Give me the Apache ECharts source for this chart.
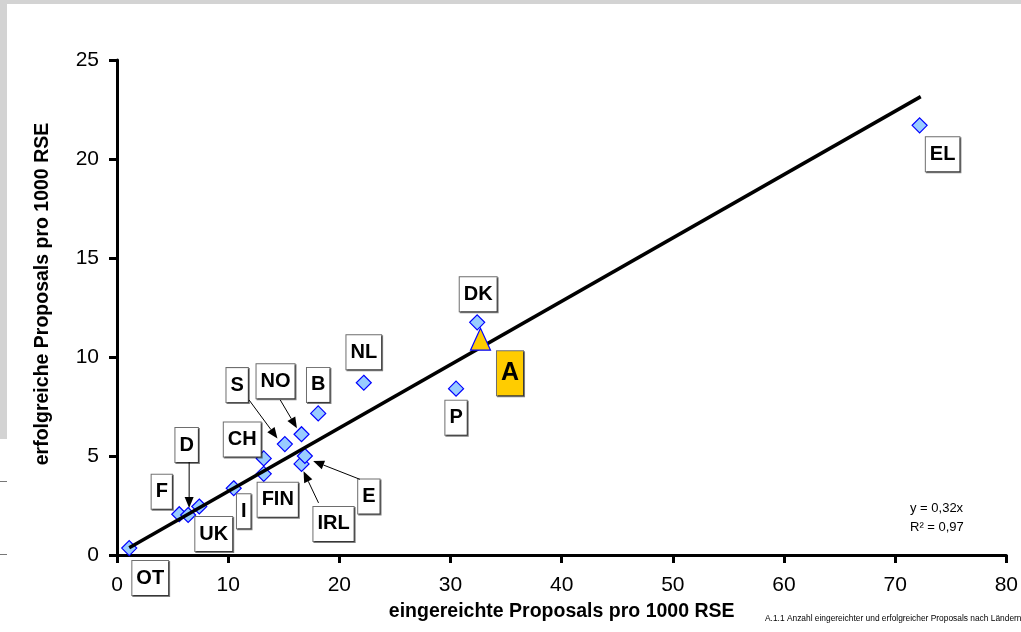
<!DOCTYPE html>
<html>
<head>
<meta charset="utf-8">
<script src="https://cdn.jsdelivr.net/npm/echarts@6/dist/echarts.min.js"></script>
<style>html,body{margin:0;padding:0;background:#fff}#c{width:1021px;height:632px}</style>
</head>
<body>
<div id="c"></div>
<script>
// ---- data ----
const countries  = ['OT','F','D','UK','I','FIN','CH','S','NO','B','IRL','E','NL','P','DK','EL'];
const submitted  = [1.1, 5.6, 6.4, 7.4, 10.5, 13.2, 13.2, 15.1, 16.6, 18.1, 16.6, 16.9, 22.2, 30.5, 32.4, 72.2];
const successful = [0.35, 2.06, 2.02, 2.45, 3.37, 4.1, 4.88, 5.6, 6.1, 7.15, 4.6, 5.0, 8.7, 8.4, 11.75, 21.7];
const austriaName = ['A'];
const austriaX = [32.7];
const austriaY = [10.9];
const trendX = [1.1, 72.3];
const trendY = [0.37, 23.15];
const xTicks = [0, 10, 20, 30, 40, 50, 60, 70, 80];
const yTicks = [0, 5, 10, 15, 20, 25];
const xTitle = 'eingereichte Proposals pro 1000 RSE';
const yTitle = 'erfolgreiche Proposals pro 1000 RSE';
const eqLine1 = 'y = 0,32x';
const eqLine2 = 'R² = 0,97';
const footer = 'A.1.1 Anzahl eingereichter und erfolgreicher Proposals nach Ländern';

// ---- layout (label offsets in pixels, relative to point) ----
const labelOffsets = {
  OT:[21,30], F:[-17.5,-22.5], D:[-1.5,-70], UK:[14.5,27.5], I:[10,23], FIN:[14,26],
  CH:[-21.5,-19], S:[-47.7,-59], NO:[-26,-53], B:[0,-28.5], IRL:[32,60], E:[64,40.5],
  NL:[0,-30.5], P:[0,29], DK:[1,-28], EL:[23,29]
};
const arrowOffsets = {
  D:[[1,-53],[1,-7]], S:[[-35.7,-44],[-7.4,-5.7]], NO:[[-21.3,-34.3],[-4.6,-6]],
  IRL:[[17,39],[2,7.4]], E:[[55,23.3],[8.3,5]]
};
const FONT = 'Liberation Sans, Arial, sans-serif';

const chart = echarts.init(document.getElementById('c'));

const countryData = countries.map((c, i) => ({
  name: c, value: [submitted[i], successful[i]],
  label: { offset: labelOffsets[c] }
}));

const boxLabel = {
  show: true, position: 'inside', formatter: '{b}',
  fontSize: 20, fontWeight: 'bold', color: '#000', fontFamily: FONT,
  backgroundColor: '#fff', borderColor: '#6e6e6e', borderWidth: 1,
  padding: [7, 4, 7, 4], lineHeight: 20,
  shadowColor: 'rgba(0,0,0,0.5)', shadowOffsetX: 1, shadowOffsetY: 1, shadowBlur: 0
};

const option = {
  backgroundColor: '#fff',
  animation: false,
  grid: { left: 117, right: 13, top: 60, bottom: 77 },
  xAxis: {
    type: 'value', min: xTicks[0], max: xTicks[xTicks.length-1], interval: 10,
    axisLine: { lineStyle: { color: '#000', width: 3 } },
    axisTick: { show: true, length: 8, lineStyle: { color: '#000', width: 3 } },
    splitLine: { show: false },
    axisLabel: { fontSize: 21, color: '#000', margin: 20, fontFamily: FONT },
    name: xTitle, nameLocation: 'middle', nameGap: 47,
    nameTextStyle: { fontSize: 19.5, fontWeight: 'bold', color: '#000', fontFamily: FONT }
  },
  yAxis: {
    type: 'value', min: yTicks[0], max: yTicks[yTicks.length-1], interval: 5,
    axisLine: { lineStyle: { color: '#000', width: 3 } },
    axisTick: { show: true, length: 8, lineStyle: { color: '#000', width: 3 } },
    splitLine: { show: false },
    axisLabel: { fontSize: 21, color: '#000', margin: 18, fontFamily: FONT }
  },
  series: [
    {
      type: 'scatter', z: 2,
      symbol: 'diamond', symbolSize: 15,
      itemStyle: { color: '#99CCFF', borderColor: '#0000FF', borderWidth: 1.2, opacity: 1 },
      label: boxLabel,
      emphasis: { disabled: true },
      data: countryData
    },
    {
      type: 'line', z: 3, symbol: 'none', silent: true,
      lineStyle: { color: '#000', width: 3.5 },
      data: trendX.map((x, i) => [x, trendY[i]])
    },
    {
      type: 'scatter', z: 4,
      symbol: 'triangle', symbolSize: [20, 22],
      itemStyle: { color: '#FFCC00', borderColor: '#0000FF', borderWidth: 1.2, opacity: 1 },
      label: Object.assign({}, boxLabel, {
        offset: [29.5, 34], fontSize: 25, backgroundColor: '#FFCC00',
        padding: [9, 4, 9, 4], lineHeight: 26
      }),
      emphasis: { disabled: true },
      data: austriaName.map((n, i) => ({ name: n, value: [austriaX[i], austriaY[i]] }))
    }
  ]
};
chart.setOption(option);

function arrow(x1, y1, x2, y2) {
  const ang = Math.atan2(y2 - y1, x2 - x1);
  const L = 11, W = 4.5;
  const bx = x2 - L * Math.cos(ang), by = y2 - L * Math.sin(ang);
  const px = -Math.sin(ang) * W, py = Math.cos(ang) * W;
  return [
    { type: 'line', z: 10, shape: { x1, y1, x2: bx, y2: by }, style: { stroke: '#000', lineWidth: 1 } },
    { type: 'polygon', z: 10, shape: { points: [[x2, y2], [bx + px, by + py], [bx - px, by - py]] }, style: { fill: '#000' } }
  ];
}

const graphics = [
  { type: 'rect', z: 0, shape: { x: 0, y: 0, width: 1021, height: 4 }, style: { fill: '#d3d3d3' } },
  { type: 'rect', z: 0, shape: { x: 0, y: 0, width: 7, height: 439 }, style: { fill: '#d3d3d3' } },
  { type: 'rect', z: 0, shape: { x: 0, y: 481, width: 7, height: 1 }, style: { fill: '#777' } },
  { type: 'rect', z: 0, shape: { x: 0, y: 554, width: 7, height: 1 }, style: { fill: '#777' } },
  { type: 'text', z: 5, x: 43, y: 294, rotation: Math.PI / 2,
    style: { text: yTitle, fontSize: 19.5, fontWeight: 'bold', fill: '#000', fontFamily: FONT, align: 'center', verticalAlign: 'middle' } },
  { type: 'text', z: 5, x: 910, y: 508,
    style: { text: eqLine1, fontSize: 13, fill: '#000', fontFamily: FONT, align: 'left', verticalAlign: 'middle' } },
  { type: 'text', z: 5, x: 910, y: 527,
    style: { text: eqLine2, fontSize: 13, fill: '#000', fontFamily: FONT, align: 'left', verticalAlign: 'middle' } },
  { type: 'text', z: 5, x: 765, y: 619,
    style: { text: footer, fontSize: 8.4, fill: '#000', fontFamily: FONT, align: 'left', verticalAlign: 'middle' } }
];
Object.keys(arrowOffsets).forEach(c => {
  const i = countries.indexOf(c);
  const p = chart.convertToPixel({ seriesIndex: 0 }, [submitted[i], successful[i]]);
  const [s, e] = arrowOffsets[c];
  graphics.push(...arrow(p[0] + s[0], p[1] + s[1], p[0] + e[0], p[1] + e[1]));
});
chart.setOption({ graphic: graphics });
</script>
</body>
</html>
